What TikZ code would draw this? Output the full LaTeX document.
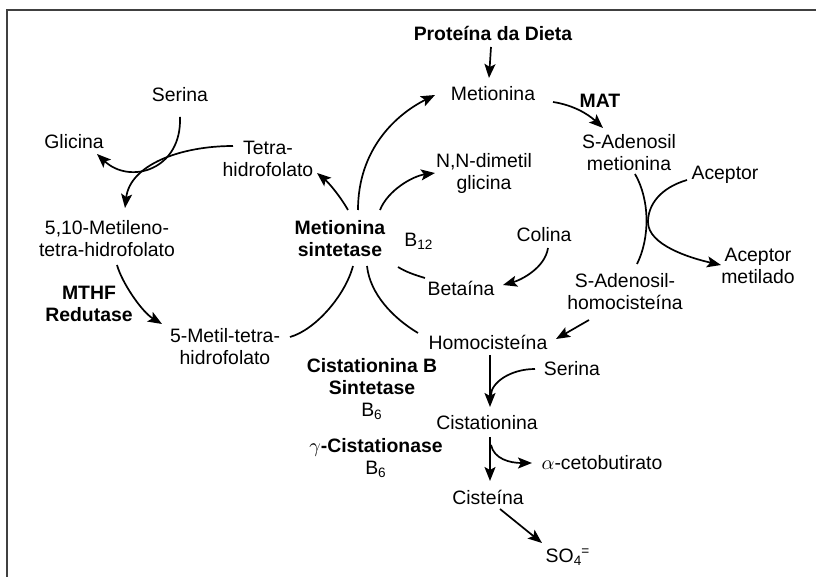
\documentclass[tikz,border=0pt]{standalone}
\usepackage{fontspec}
\setmainfont{Liberation Sans}
\usetikzlibrary{arrows.meta}

\begin{document}
\begin{tikzpicture}[x=0.5pt, y=-0.5pt, >={Stealth[length=7pt,width=5.5pt,inset=1.5pt]}, line width=0.85pt,
    every node/.style={font=\fontsize{9.7}{11}\selectfont, align=center, inner sep=1pt},
    enz/.style={font=\fontsize{9.7}{11}\selectfont\bfseries}]
    \useasboundingbox (0,0) rectangle (816,577);
    \draw[line width=1pt, black!75] (7,577) -- (7,10) -- (816,10);

    \node[enz] (diet) at (493,33) {Proteína da Dieta};
    \node (met) at (493,94) {Metionina};
    \node[enz] (mat) at (600,101) {MAT};
    \node (sam) at (629,153) {S-Adenosil\\metionina};
    \node (acc) at (725,175) {Aceptor};
    \node (accm) at (758,266) {Aceptor\\metilado};
    \node (sah) at (625,292) {S-Adenosil-\\homocisteína};
    \node (hcy) at (488,342) {Homocisteína};
    \node (ser2) at (572,369) {Serina};
    \node (cth) at (487,423) {Cistationina};
    \node (akb) at (602,463) {$\alpha$-cetobutirato};
    \node (cys) at (488,497) {Cisteína};
    \node (so4) at (568,557) {SO\textsubscript{4}\kern-0.5pt\textsuperscript{=}};
    \node (ser1) at (180,95) {Serina};
    \node (gly) at (74,142) {Glicina};
    \node (thf) at (268,159) {Tetra-\\hidrofolato};
    \node (mthf) at (107,239) {5,10-Metileno-\\tetra-hidrofolato};
    \node[enz] (mthfr) at (89,304) {MTHF\\Redutase};
    \node (mthf5) at (225,347) {5-Metil-tetra-\\hidrofolato};
    \node[enz] (ms) at (340,239) {Metionina\\sintetase};
    \node (b12) at (419,241) {B\textsubscript{12}};
    \node (dmg) at (484,173) {N,N-dimetil\\glicina};
    \node (chol) at (544,235) {Colina};
    \node (bet) at (461,288) {Betaína};
    \node (cbs) at (372,389) {\textbf{Cistationina B}\\\textbf{Sintetase}\\B\textsubscript{6}};
    \node (cgl) at (376,458) {\textbf{$\gamma$-Cistationase}\\B\textsubscript{6}};

    \draw[->] ([shift={(-2,14)}]diet.center) -- ([shift={(-4,-16)}]met.center);
    \draw[->] ([shift={(60,8)}]met.center) .. controls +(20,3) and +(-15,-14) .. ([shift={(-26,-25)}]sam.center);
    \draw ([shift={(6,21)}]sam.center) .. controls +(15,26) and +(13,-26) .. ([shift={(12,-28)}]sah.center);
    \draw[->] ([shift={(-38,5)}]acc.center) .. controls +(-27,8) and +(0,-17) .. ([shift={(-77,47)}]acc.center)
        .. controls +(0,23) and +(-31,-7) .. ([shift={(-37,-1)}]accm.center);
    \draw[->] ([shift={(-36,28)}]sah.center) -- ([shift={(68,-3)}]hcy.center);
    \draw[->] ([shift={(2,13)}]hcy.center) -- ([shift={(3,-16)}]cth.center);
    \draw ([shift={(-37,0)}]ser2.center) .. controls +(-25,0) and +(0,-12) .. ([shift={(4,-28)}]cth.center);
    \draw[->] ([shift={(3,14)}]cth.center) -- ([shift={(2,-16)}]cys.center);
    \draw[->] ([shift={(4,22)}]cth.center) .. controls +(3,14) and +(-22,0) .. ([shift={(-70,0)}]akb.center);
    \draw[->] ([shift={(12,12)}]cys.center) -- ([shift={(-26,-14)}]so4.center);

    \draw[->] ([shift={(0,22)}]ser1.center) .. controls +(2,53) and +(33,31) .. ([shift={(23,12)}]gly.center);
    \draw[->] ([shift={(-35,-13)}]thf.center) .. controls +(-53,0) and +(5,-43) .. ([shift={(18,-31)}]mthf.center);
    \draw[->] ([shift={(10,26)}]mthf.center) .. controls +(5,18) and +(-20,-12) .. ([shift={(-63,-23)}]mthf5.center);

    \draw ([shift={(65,-10)}]mthf5.center) .. controls +(25,-7) and +(-8,30) .. ([shift={(13,27)}]ms.center);
    \draw ([shift={(-70,-9)}]hcy.center) .. controls +(-25,-15) and +(3,28) .. ([shift={(27,27)}]ms.center);
    \draw[->] ([shift={(8,-29)}]ms.center) .. controls +(-8,-14) and +(12,10) .. ([shift={(49,14)}]thf.center);
    \draw[->] ([shift={(18,-29)}]ms.center) .. controls +(0,-60) and +(-40,20) .. ([shift={(-58,1)}]met.center);
    \draw[->] ([shift={(40,-29)}]ms.center) .. controls +(8,-20) and +(-22,3) .. ([shift={(-49,0)}]dmg.center);
    \draw ([shift={(-36,-10)}]bet.center) .. controls +(-10,-3) and +(8,5) .. ([shift={(58,28)}]ms.center);
    \draw[->] ([shift={(4,13)}]chol.center) .. controls +(-3,20) and +(18,-5) .. ([shift={(42,-3)}]bet.center);
\end{tikzpicture}
\end{document}
